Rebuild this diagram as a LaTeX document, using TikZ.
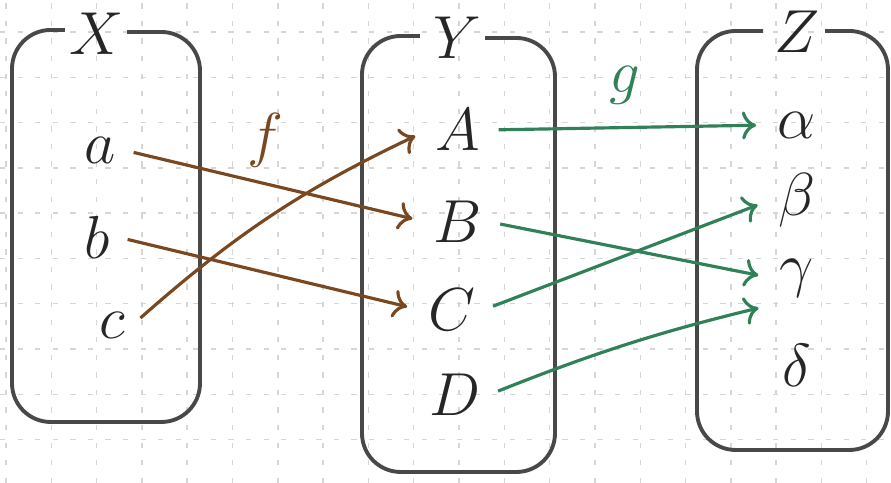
\documentclass[tikz,border=0pt]{standalone}
\usetikzlibrary{arrows.meta}
\definecolor{fbrown}{RGB}{122,72,32}
\definecolor{ggreen}{RGB}{48,128,88}
\definecolor{pencil}{RGB}{72,72,72}
\tikzset{
  gridline/.style={black!16, line width=0.4pt, dash pattern=on 1.5pt off 3.5pt},
  setbox/.style={pencil, line width=1.1pt, rounded corners=11pt},
  elem/.style={font=\fontsize{16}{18}\selectfont, text=black!85, inner sep=2pt},
  fmap/.style={->, fbrown, line width=0.9pt, shorten <=3pt, shorten >=4pt},
  gmap/.style={->, ggreen, line width=0.9pt, shorten <=3pt, shorten >=4pt},
}
\begin{document}
\begin{tikzpicture}[>={To[length=4pt,width=8pt]}]
\useasboundingbox (0,0) rectangle (8.91,4.83);
% squared paper
\foreach \i in {0,...,19} \draw[gridline] ({0.06+0.453*\i},0)--++(0,4.83);
\foreach \j in {0,...,9} \draw[gridline] (0,{0.433+0.453*\j})--++(8.91,0);
% the three sets
\draw[setbox] (0.65,4.53)--(0.12,4.53)--(0.12,0.61)--(2.00,0.61)--(2.00,4.51)--(1.27,4.51);
\draw[setbox] (4.20,4.47)--(3.62,4.47)--(3.62,0.11)--(5.55,0.11)--(5.55,4.45)--(4.85,4.45);
\draw[setbox] (7.63,4.52)--(6.97,4.52)--(6.97,0.33)--(8.88,0.33)--(8.88,4.52)--(8.25,4.52);
\node[elem] (X) at (0.97,4.49) {$X$};
\node[elem] (Y) at (4.57,4.45) {$Y$};
\node[elem] (Z) at (7.97,4.51) {$Z$};
% elements
\node[elem] (a) at (1.00,3.33) {$a$};
\node[elem] (b) at (0.97,2.46) {$b$};
\node[elem] (c) at (1.12,1.58) {$c$};
\node[elem] (A) at (4.58,3.53) {$A$};
\node[elem] (B) at (4.58,2.61) {$B$};
\node[elem] (C) at (4.52,1.73) {$C$};
\node[elem] (D) at (4.55,0.88) {$D$};
\node[elem] (al) at (7.97,3.58) {$\alpha$};
\node[elem] (be) at (7.97,2.83) {$\beta$};
\node[elem] (ga) at (7.97,2.05) {$\gamma$};
\node[elem] (de) at (7.97,1.18) {$\delta$};
% f : X -> Y
\node[elem, text=fbrown] (f) at (2.65,3.43) {$f$};
\draw[fmap] (a.east)--(B.west);
\draw[fmap] (b.east)--(C.west);
\draw[fmap] (c.east) to[bend left=8] (A.west);
% g : Y -> Z
\node[elem, text=ggreen] (g) at (6.25,3.98) {$g$};
\draw[gmap] (A.east)--(al.west);
\draw[gmap] (B.east)--(ga.west);
\draw[gmap] (C.east)--(be.west);
\draw[gmap] (D.east) to[bend left=4] (ga.south west);
\end{tikzpicture}
\end{document}
